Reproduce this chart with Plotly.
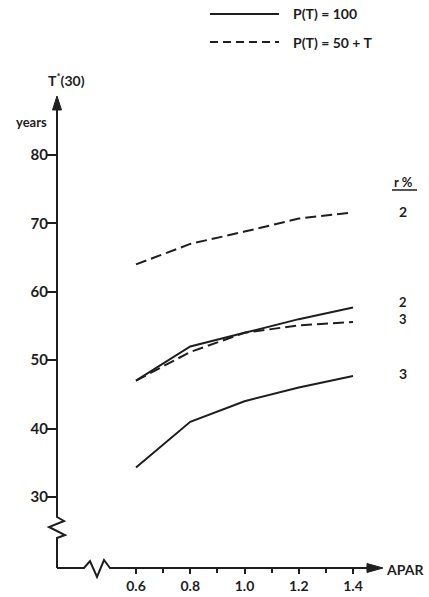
import plotly.graph_objects as go

# ---- data ----
apar = [0.6, 0.8, 1.0, 1.2, 1.4]
solid_r2 = [47.0, 52.0, 54.0, 56.0, 57.7]
solid_r3 = [34.3, 41.0, 44.0, 46.0, 47.7]
dashed_r2 = [64.0, 67.0, 68.8, 70.7, 71.6]
dashed_r3 = [47.0, 51.2, 54.0, 55.1, 55.6]
x_ticks = [0.6, 0.8, 1.0, 1.2, 1.4]
x_minor = [0.7, 0.9, 1.1, 1.3]
y_ticks = [30, 40, 50, 60, 70, 80]

W, H = 429, 597
L, R, T, B = 57, 380, 98, 568  # plot area in pixels
FONT = "Lato"
INK = "#1e1e1e"


def px(x, y):
    return (x - L) / (R - L), (B - y) / (B - T)


def path(points, close=False):
    s = ""
    for i, (x, y) in enumerate(points):
        a, b = px(x, y)
        s += ("M" if i == 0 else "L") + f"{a:.5f},{b:.5f} "
    if close:
        s += "Z"
    return s


fig = go.Figure()
line_w = 2
dash = "11px,5px"
fig.add_trace(go.Scatter(x=apar, y=dashed_r2, mode="lines", name="P(T) = 50 + T, r=2",
                         line=dict(color=INK, width=line_w, dash=dash)))
fig.add_trace(go.Scatter(x=apar, y=dashed_r3, mode="lines", name="P(T) = 50 + T, r=3",
                         line=dict(color=INK, width=line_w, dash=dash)))
fig.add_trace(go.Scatter(x=apar, y=solid_r2, mode="lines", name="P(T) = 100, r=2",
                         line=dict(color=INK, width=line_w)))
fig.add_trace(go.Scatter(x=apar, y=solid_r3, mode="lines", name="P(T) = 100, r=3",
                         line=dict(color=INK, width=line_w)))

shapes = []
# y axis with break
yaxis_pts = [(57, 568), (57, 538), (65, 535), (49, 527), (64, 521), (57, 517), (57, 106)]
shapes.append(dict(type="path", xref="paper", yref="paper", path=path(yaxis_pts),
                   line=dict(color=INK, width=2)))
shapes.append(dict(type="path", xref="paper", yref="paper",
                   path=path([(57, 96), (52.5, 110), (61.5, 110)], close=True),
                   fillcolor=INK, line=dict(color=INK, width=1)))
# x axis with break
xaxis_pts = [(57, 568), (84, 568), (90, 561), (97, 577), (104, 560), (110, 568), (370, 568)]
shapes.append(dict(type="path", xref="paper", yref="paper", path=path(xaxis_pts),
                   line=dict(color=INK, width=2)))
shapes.append(dict(type="path", xref="paper", yref="paper",
                   path=path([(383, 568), (367, 563.5), (367, 572.5)], close=True),
                   fillcolor=INK, line=dict(color=INK, width=1)))
# legend samples
a0, b0 = px(210, 14)
a1, _ = px(279, 14)
shapes.append(dict(type="line", xref="paper", yref="paper", x0=a0, x1=a1, y0=b0, y1=b0,
                   line=dict(color=INK, width=2)))
_, b2 = px(210, 42)
shapes.append(dict(type="line", xref="paper", yref="paper", x0=a0, x1=a1, y0=b2, y1=b2,
                   line=dict(color=INK, width=2, dash="8px,5px")))
# r % underline
u0, ub = px(392, 190)
u1, _ = px(417, 190)
shapes.append(dict(type="line", xref="paper", yref="paper", x0=u0, x1=u1, y0=ub, y1=ub,
                   line=dict(color=INK, width=1.5)))

annotations = []


def text(x, y, s, size=14, xanchor="center"):
    a, b = px(x, y)
    annotations.append(dict(x=a, y=b, xref="paper", yref="paper",
                            text=s, showarrow=False, xanchor=xanchor, yanchor="middle",
                            font=dict(family=FONT, size=size, color=INK, weight="bold")))


text(291, 14, "P(T) = 100", 14, "left")
text(291, 42, "P(T) = 50 + T", 14, "left")
text(66, 79, "T<sup>*</sup>(30)", 14)
text(31, 122, "years", 13)
text(405, 569, "APAR", 14)
text(403, 182, "r %", 13)
# series labels at right (r %)
text(403, 211, "2", 14)
text(403, 310, "2<br>3", 13)
text(403, 373, "3", 14)

fig.update_layout(
    width=W, height=H,
    margin=dict(l=L, r=W - R, t=T, b=H - B, pad=0, autoexpand=False),
    paper_bgcolor="white", plot_bgcolor="white",
    showlegend=False,
    shapes=shapes, annotations=annotations,
    xaxis=dict(range=[0.3088, 1.4995], showgrid=False, zeroline=False, showline=False,
               automargin=False,
               tickvals=x_ticks, ticktext=[f"{v:.1f}" for v in x_ticks],
               ticks="outside", ticklen=5, tickwidth=2, tickcolor=INK,
               minor=dict(tickvals=x_minor, ticks="outside", ticklen=4, tickwidth=2, tickcolor=INK),
               ticklabelstandoff=0,
               tickfont=dict(family=FONT, size=14, color=INK, weight="bold")),
    yaxis=dict(range=[19.62, 88.33], showgrid=False, zeroline=False, showline=False,
               automargin=False,
               tickvals=y_ticks, ticks="outside", ticklen=10, tickwidth=2, tickcolor=INK,
               ticklabelstandoff=-5,
               tickfont=dict(family=FONT, size=15, color=INK, weight="bold")),
)

fig.write_html("out.html", config={"displayModeBar": False},
               post_script="document.body.style.margin='0';")
